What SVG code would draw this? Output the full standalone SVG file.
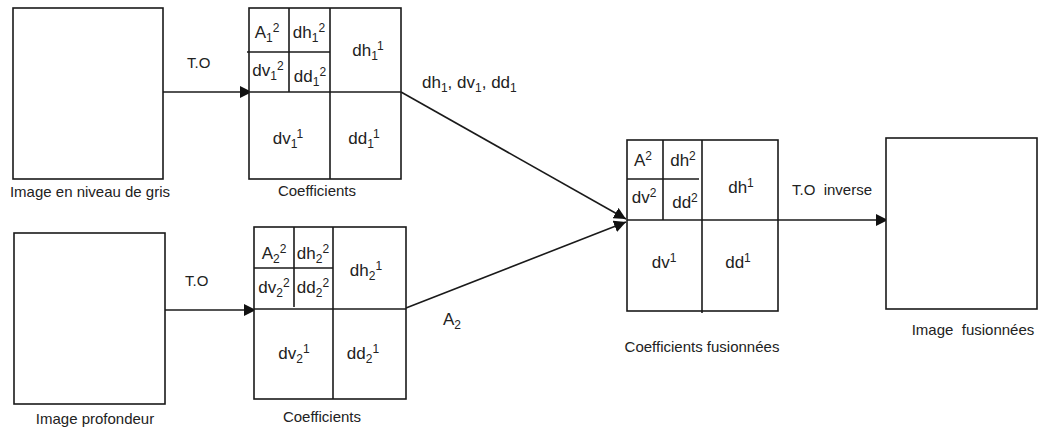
<svg xmlns="http://www.w3.org/2000/svg" width="1041" height="432" viewBox="0 0 1041 432">
<style>
.box{fill:#fff;stroke:#1a1a1a;stroke-width:1.6}
.ln{stroke:#1a1a1a;stroke-width:1.6;fill:none}
.c{font-family:"Liberation Sans",Arial,sans-serif;font-size:17px;fill:#222;text-anchor:middle}
.lab{font-family:"Liberation Sans",Arial,sans-serif;font-size:15px;fill:#222;text-anchor:middle}
.e{font-family:"Liberation Sans",Arial,sans-serif;font-size:15px;fill:#222}
.big{font-size:17px}
.s{font-size:12px}
</style>
<defs>
<marker id="ah" viewBox="0 0 10 10" refX="10" refY="5" markerWidth="12" markerHeight="12" markerUnits="userSpaceOnUse" orient="auto">
<path d="M0,0 L10,5 L0,10 z" fill="#111"/>
</marker>
</defs>

<g id="connectors">
<line class="ln" x1="163" y1="92" x2="252" y2="92" marker-end="url(#ah)"/>
<line class="ln" x1="165" y1="310" x2="256" y2="310" marker-end="url(#ah)"/>
<line class="ln" x1="401" y1="92" x2="626" y2="219" marker-end="url(#ah)"/>
<line class="ln" x1="406" y1="308" x2="626" y2="222" marker-end="url(#ah)"/>
<line class="ln" x1="778" y1="220" x2="888" y2="220" marker-end="url(#ah)"/>
<text class="e" x="187" y="68">T.O</text>
<text class="e" x="185" y="286">T.O</text>
<text class="e big" x="422" y="88">dh<tspan class="s" dy="4">1</tspan><tspan dy="-4">, dv</tspan><tspan class="s" dy="4">1</tspan><tspan dy="-4">, dd</tspan><tspan class="s" dy="4">1</tspan></text>
<text class="e big" x="443" y="325">A<tspan class="s" dy="4">2</tspan></text>
<text class="e" x="792" y="195" xml:space="preserve">T.O  inverse</text>
</g>

<g id="img1">
<rect class="box" x="13" y="8" width="150" height="171"/>
<text class="lab" x="90" y="197">Image en niveau de gris</text>
</g>

<g id="coef1">
<rect class="box" x="249" y="8" width="152" height="171"/>
<line class="ln" x1="330" y1="8" x2="330" y2="179"/>
<line class="ln" x1="249" y1="92" x2="401" y2="92"/>
<line class="ln" x1="289" y1="8" x2="289" y2="92"/>
<line class="ln" x1="247" y1="52" x2="330" y2="52"/>
<text class="c" x="267" y="38">A<tspan class="s" dy="4">1</tspan><tspan class="s" dy="-10">2</tspan></text>
<text class="c" x="309" y="38">dh<tspan class="s" dy="4">1</tspan><tspan class="s" dy="-10">2</tspan></text>
<text class="c" x="268" y="76">dv<tspan class="s" dy="4">1</tspan><tspan class="s" dy="-10">2</tspan></text>
<text class="c" x="310" y="82">dd<tspan class="s" dy="4">1</tspan><tspan class="s" dy="-10">2</tspan></text>
<text class="c" x="368" y="56">dh<tspan class="s" dy="4">1</tspan><tspan class="s" dy="-10">1</tspan></text>
<text class="c" x="288" y="144">dv<tspan class="s" dy="4">1</tspan><tspan class="s" dy="-10">1</tspan></text>
<text class="c" x="364" y="144">dd<tspan class="s" dy="4">1</tspan><tspan class="s" dy="-10">1</tspan></text>
<text class="lab" x="317" y="196">Coefficients</text>
</g>

<g id="img2">
<rect class="box" x="14" y="233" width="151" height="171"/>
<text class="lab" x="95" y="424">Image profondeur</text>
</g>

<g id="coef2">
<rect class="box" x="254" y="227" width="152" height="172"/>
<line class="ln" x1="333" y1="227" x2="333" y2="399"/>
<line class="ln" x1="254" y1="309" x2="406" y2="309"/>
<line class="ln" x1="294" y1="227" x2="294" y2="307"/>
<line class="ln" x1="254" y1="268" x2="333" y2="268"/>
<text class="c" x="274" y="259">A<tspan class="s" dy="4">2</tspan><tspan class="s" dy="-10">2</tspan></text>
<text class="c" x="313" y="259">dh<tspan class="s" dy="4">2</tspan><tspan class="s" dy="-10">2</tspan></text>
<text class="c" x="274" y="293">dv<tspan class="s" dy="4">2</tspan><tspan class="s" dy="-10">2</tspan></text>
<text class="c" x="313" y="293">dd<tspan class="s" dy="4">2</tspan><tspan class="s" dy="-10">2</tspan></text>
<text class="c" x="366" y="276">dh<tspan class="s" dy="4">2</tspan><tspan class="s" dy="-10">1</tspan></text>
<text class="c" x="294" y="359">dv<tspan class="s" dy="4">2</tspan><tspan class="s" dy="-10">1</tspan></text>
<text class="c" x="363" y="359">dd<tspan class="s" dy="4">2</tspan><tspan class="s" dy="-10">1</tspan></text>
<text class="lab" x="322" y="422">Coefficients</text>
</g>

<g id="coef3">
<rect class="box" x="627" y="140" width="151" height="171"/>
<line class="ln" x1="702" y1="140" x2="702" y2="313"/>
<line class="ln" x1="627" y1="220" x2="778" y2="220"/>
<line class="ln" x1="663" y1="140" x2="663" y2="220"/>
<line class="ln" x1="627" y1="179" x2="699" y2="179"/>
<text class="c" x="643" y="166">A<tspan class="s" dy="-6">2</tspan></text>
<text class="c" x="683" y="166">dh<tspan class="s" dy="-6">2</tspan></text>
<text class="c" x="644" y="203">dv<tspan class="s" dy="-6">2</tspan></text>
<text class="c" x="685" y="208">dd<tspan class="s" dy="-6">2</tspan></text>
<text class="c" x="741" y="193">dh<tspan class="s" dy="-6">1</tspan></text>
<text class="c" x="664" y="268">dv<tspan class="s" dy="-6">1</tspan></text>
<text class="c" x="738" y="268">dd<tspan class="s" dy="-6">1</tspan></text>
<text class="lab" x="702" y="352">Coefficients fusionnées</text>
</g>

<g id="img3">
<rect class="box" x="886" y="138" width="151" height="171"/>
<text class="lab" x="973" y="335" xml:space="preserve">Image  fusionnées</text>
</g>
</svg>
